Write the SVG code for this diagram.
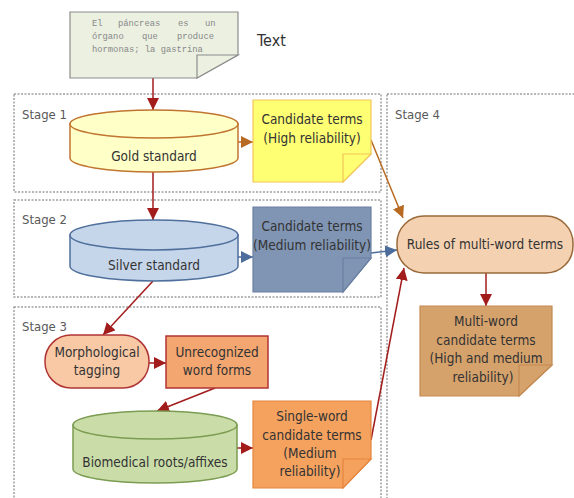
<svg xmlns="http://www.w3.org/2000/svg" width="574" height="498" viewBox="0 0 574 498">
<style>
.stage{fill:none;stroke:#a0a0a0;stroke-width:1.5;stroke-dasharray:2 1.5}
.slbl{font-family:"DejaVu Sans Condensed","DejaVu Sans",sans-serif;font-size:13px;fill:#595959}
.t{font-family:"DejaVu Sans Condensed","DejaVu Sans",sans-serif;font-size:13.5px;fill:#333333;text-anchor:middle}
.mono{font-family:"Liberation Mono","DejaVu Sans Mono",monospace;font-size:8.8px;fill:#888888}
.red{stroke:#a31c1c;stroke-width:1.5;fill:none;marker-end:url(#mr)}
.org{stroke:#b86a22;stroke-width:1.5;fill:none;marker-end:url(#mo)}
.blu{stroke:#4c6d9c;stroke-width:1.5;fill:none;marker-end:url(#mb)}
</style>
<defs>
<marker id="mr" markerUnits="userSpaceOnUse" markerWidth="12" markerHeight="12" refX="10" refY="5" orient="auto" viewBox="0 0 10 10"><path d="M0,0 L10,5 L0,10 Z" fill="#a31c1c"/></marker>
<marker id="mo" markerUnits="userSpaceOnUse" markerWidth="12" markerHeight="12" refX="10" refY="5" orient="auto" viewBox="0 0 10 10"><path d="M0,0 L10,5 L0,10 Z" fill="#b86a22"/></marker>
<marker id="mb" markerUnits="userSpaceOnUse" markerWidth="12" markerHeight="12" refX="10" refY="5" orient="auto" viewBox="0 0 10 10"><path d="M0,0 L10,5 L0,10 Z" fill="#4c6d9c"/></marker>
</defs>
<rect width="574" height="498" fill="#ffffff"/>

<g id="stages">
<rect class="stage" x="14" y="94" width="367" height="98"/>
<text class="slbl" x="22" y="119">Stage 1</text>
<rect class="stage" x="14" y="200" width="367" height="97"/>
<text class="slbl" x="22" y="224">Stage 2</text>
<rect class="stage" x="14" y="307" width="367" height="220"/>
<text class="slbl" x="22" y="331">Stage 3</text>
<rect class="stage" x="387" y="94" width="210" height="430"/>
<text class="slbl" x="395" y="119">Stage 4</text>
</g>

<g id="connectors">
<path class="red" d="M153,78 L153,110"/>
<path class="red" d="M153,172 L153,220"/>
<path class="org" d="M238,142 L253,142"/>
<path class="blu" d="M238,257 L253,257"/>
<path class="org" d="M371,140 L403,218"/>
<path class="blu" d="M371,253 L397,250"/>
<path class="red" d="M153,281 L103,335"/>
<path class="red" d="M149,363 L166,363"/>
<path class="red" d="M215,388 L157,411"/>
<path class="red" d="M237,448 L253,448"/>
<path class="red" d="M371,440 L404,268"/>
<path class="red" d="M486,273 L486,306"/>
</g>

<g id="text-note">
<path d="M70,12 L238,12 L238,55 L197,78 L70,78 Z" fill="#ebf0e1" stroke="#8c8c8c" stroke-width="1.2"/>
<path d="M197,55 L238,55 L197,78 Z" fill="#ebf0e1" stroke="#8c8c8c" stroke-width="1.2"/>
<text class="mono" x="92" y="26">El</text>
<text class="mono" x="118" y="26">páncreas</text>
<text class="mono" x="178" y="26">es</text>
<text class="mono" x="205" y="26">un</text>
<text class="mono" x="92" y="39">órgano</text>
<text class="mono" x="142" y="39">que</text>
<text class="mono" x="177" y="39">produce</text>
<text class="mono" x="92" y="52">hormonas; la gastrina</text>
<text x="257" y="46" style="font-family:'DejaVu Sans Condensed','DejaVu Sans',sans-serif;font-size:16px;fill:#333">Text</text>
</g>

<g id="gold">
<path d="M70,124 L70,158 A84,14 0 0 0 238,158 L238,124 Z" fill="#ffffc8" stroke="#c07530" stroke-width="1.5"/>
<ellipse cx="154" cy="124" rx="84" ry="14" fill="#ffffc8" stroke="#c07530" stroke-width="1.5"/>
<text class="t" x="154" y="161">Gold standard</text>
</g>

<g id="cand-high">
<path d="M253,100 L371,100 L371,154 L343,182 L253,182 Z" fill="#ffff73" stroke="#f2c55a" stroke-width="1.2"/>
<path d="M343,154 L371,154 L343,182 Z" fill="#ffff73" stroke="#f2c55a" stroke-width="1.2"/>
<text class="t" x="312" y="124">Candidate terms</text>
<text class="t" x="312" y="143">(High reliability)</text>
</g>

<g id="silver">
<path d="M70,235 L70,266 A84,15 0 0 0 238,266 L238,235 Z" fill="#c6d6ea" stroke="#4f6f9c" stroke-width="1.5"/>
<ellipse cx="154" cy="235" rx="84" ry="15" fill="#c6d6ea" stroke="#4f6f9c" stroke-width="1.5"/>
<text class="t" x="154" y="270">Silver standard</text>
</g>

<g id="cand-medium">
<path d="M253,207 L371,207 L371,258 L343,292 L253,292 Z" fill="#8095b3" stroke="#6a80a2" stroke-width="1.2"/>
<path d="M343,258 L371,258 L343,292 Z" fill="#8095b3" stroke="#6a80a2" stroke-width="1.2"/>
<text class="t" x="312" y="231">Candidate terms</text>
<text class="t" x="312" y="250">(Medium reliability)</text>
</g>

<g id="morph">
<rect x="45" y="335" width="104" height="53" rx="26" ry="26" fill="#f9c9a6" stroke="#b03434" stroke-width="1.5"/>
<text class="t" x="97" y="357">Morphological</text>
<text class="t" x="97" y="375">tagging</text>
</g>

<g id="unrec">
<rect x="166" y="336" width="102" height="52" fill="#f4a670" stroke="#b03434" stroke-width="1.5"/>
<text class="t" x="217" y="357">Unrecognized</text>
<text class="t" x="217" y="375">word forms</text>
</g>

<g id="biomed">
<path d="M73,425 L73,469 A82,14 0 0 0 237,469 L237,425 Z" fill="#cadda9" stroke="#7c9c52" stroke-width="1.5"/>
<ellipse cx="155" cy="425" rx="82" ry="14" fill="#cadda9" stroke="#7c9c52" stroke-width="1.5"/>
<text class="t" x="155" y="467">Biomedical roots/affixes</text>
</g>

<g id="single">
<path d="M253,401 L371,401 L371,459 L343,488 L253,488 Z" fill="#f5a25f" stroke="#e4853e" stroke-width="1.2"/>
<path d="M343,459 L371,459 L343,488 Z" fill="#f5a25f" stroke="#e4853e" stroke-width="1.2"/>
<text class="t" x="312" y="421">Single-word</text>
<text class="t" x="312" y="440">candidate terms</text>
<text class="t" x="310" y="458">(Medium</text>
<text class="t" x="310" y="476">reliability)</text>
</g>

<g id="rules">
<rect x="397" y="216" width="176" height="57" rx="27" ry="27" fill="#f3d1b1" stroke="#9a6a3a" stroke-width="1.5"/>
<text class="t" x="485" y="249">Rules of multi-word terms</text>
</g>

<g id="multi">
<path d="M420,306 L552,306 L552,365 L519,396 L420,396 Z" fill="#d6a26c" stroke="#c48a52" stroke-width="1.2"/>
<path d="M519,365 L552,365 L519,396 Z" fill="#d6a26c" stroke="#c48a52" stroke-width="1.2"/>
<text class="t" x="486" y="326">Multi-word</text>
<text class="t" x="486" y="345">candidate terms</text>
<text class="t" x="486" y="363">(High and medium</text>
<text class="t" x="483" y="382">reliability)</text>
</g>
</svg>
